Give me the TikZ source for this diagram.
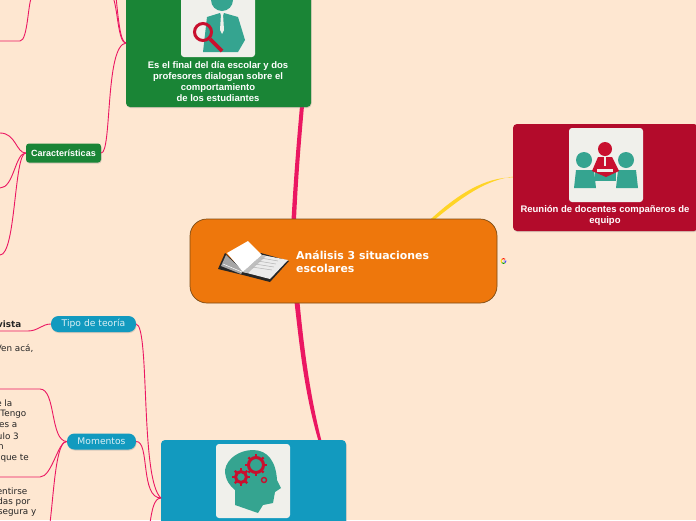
\documentclass[tikz,border=0pt]{standalone}
\usepackage{fontspec}
\setmainfont{Liberation Sans}
\newfontfamily\dvs{DejaVu Sans}
\usetikzlibrary{shadows}
\definecolor{bgc}{HTML}{FEE7D1}
\definecolor{grn}{HTML}{1A8536}
\definecolor{org}{HTML}{EE770C}
\definecolor{brd}{HTML}{7A4A14}
\definecolor{redb}{HTML}{B30B2B}
\definecolor{blu}{HTML}{129ABF}
\definecolor{pnk}{HTML}{EB1762}
\definecolor{ylw}{HTML}{FFD426}
\definecolor{teal2}{HTML}{35A490}
\definecolor{crim}{HTML}{C8102E}
\definecolor{thumb}{HTML}{F0F0EB}
\tikzset{
 x=1pt,y=-1pt,
 bigbox/.style={draw=none,rounded corners=4pt,minimum width=185pt,inner sep=0pt,drop shadow={shadow xshift=0.5pt,shadow yshift=-1pt,opacity=.3}},
 thumbbox/.style={fill=thumb,rounded corners=3pt,minimum width=74pt,minimum height=74pt,inner sep=0pt},
 boxtext/.style={text=white,font=\fontsize{9.5}{11}\selectfont\bfseries,align=center,inner sep=0pt},
 pill/.style={fill=blu,rounded corners=7.5pt,text=white!85!blu,font=\dvs\fontsize{9.2}{10}\selectfont,inner sep=0pt,drop shadow={shadow xshift=0.5pt,shadow yshift=-1pt,opacity=.3}},
 tag/.style={fill=grn,rounded corners=3pt,text=white,font=\fontsize{9}{10}\selectfont\bfseries,inner sep=0pt,drop shadow={shadow xshift=0.5pt,shadow yshift=-1pt,opacity=.3}},
 thin link/.style={draw=pnk,line width=.9pt},
 cut/.style={font=\dvs\fontsize{8.8}{10}\selectfont,text=black!85,anchor=east,inner sep=0pt},
}
\begin{document}
\begin{tikzpicture}
\path[use as bounding box] (0,0) rectangle (696,520);
\clip (0,0) rectangle (696,520);
\fill[bgc] (0,0) rectangle (696,520);

% free ends
\coordinate (e1) at (0,41);
\coordinate (e3) at (113,-3);
\coordinate (e4) at (116,-3);
\coordinate (e5) at (0,133);
\coordinate (e6) at (0,188);
\coordinate (e7) at (0,255);
\coordinate (e8) at (0,331);
\coordinate (e9) at (0,389);
\coordinate (e10) at (0,477);
\coordinate (e11) at (50,523);
\coordinate (e12) at (150,523);
\coordinate (e13) at (32,-3);

% connectors under boxes
\coordinate (gl) at (126,43);
\coordinate (bl) at (161,498);
\coordinate (cg) at (294,220);
\coordinate (cb) at (297,302);
\coordinate (gb) at (302,106);
\coordinate (bt) at (320,441);
\coordinate (cr) at (432,220);
\coordinate (rl) at (514,177);

\fill[pnk] (cg) ++(-2.5,0) .. controls (294,175) and (297,140) .. ([xshift=-2pt]gb) -- ([xshift=2pt]gb) .. controls (301,140) and (298,175) .. ([xshift=2pt]cg) -- cycle;
\fill[pnk] (cb) ++(-2.5,0) .. controls (300,350) and (305,395) .. ([xshift=-1.5pt]bt) -- ([xshift=1.5pt]bt) .. controls (310,395) and (304,350) .. ([xshift=2.5pt]cb) -- cycle;
\fill[ylw] ([xshift=-2.2pt]cr) .. controls (458,194) and (485,177) .. ([yshift=-.4pt]rl) -- ([yshift=.4pt]rl) .. controls (487,179) and (462,197) .. ([xshift=2.2pt]cr) -- cycle;

% boxes
\node[bigbox,fill=grn,minimum height=128pt] (green) at (218.5,43) {};
\node[bigbox,fill=redb,minimum height=107pt] (red) at (605.5,177.5) {};
\node[bigbox,fill=blu,minimum height=120pt] (blue) at (253.5,500) {};
\node[draw=brd,line width=.7pt,fill=org,rounded corners=17pt,minimum width=307pt,minimum height=84pt,inner sep=0pt] (center) at (343.5,261) {};

\node[thumbbox] (t1) at (218,20) {};
\node[thumbbox] (t2) at (606,165) {};
\node[thumbbox] (t3) at (253,481) {};

% magnifier icon
\fill[teal2] (222,0) circle (11);
\fill[teal2] (207,17) -- (220,13) -- (222,18) -- (224,13) -- (238,17) -- (245,40) -- (238,52) -- (203,52) -- cycle;
\fill[thumb] (221,14) -- (223,14) -- (224,30) -- (222,34) -- (220,30) -- cycle;
\draw[crim,line width=3pt] (203,32) circle (8.5);
\draw[crim,line width=3.6pt] (210,39) -- (222,51);

% team icon
\fill[teal2] (584,160) circle (8);
\fill[teal2] (626,160) circle (8);
\fill[teal2] (576,170) -- (594,170) -- (596,188) -- (574,188) -- cycle;
\fill[teal2] (618,170) -- (636,170) -- (638,188) -- (616,188) -- cycle;
\fill[teal2] (595,168) rectangle (616,181);
\fill[crim] (605,149) circle (7);
\fill[crim] (598,157) -- (612,157) -- (619,171) -- (606,177) -- (592,171) -- cycle;
\fill[thumb] (597,169) rectangle (613,172);
\fill[thumb] (604,157) rectangle (606,166);

% head icon
\fill[teal2] (225,470) .. controls (227,458) and (240,450) .. (253,450) .. controls (268,450) and (276,462) .. (277,480) -- (281,488) -- (275,492) -- (273,503) -- (263,505) -- (258,513) -- (235,505) -- (235,490) .. controls (230,486) and (225,480) .. (225,470) -- cycle;
\foreach \cx/\cy/\r in {256/465/7.5,241/477/5.5}{
  \draw[crim,line width=3pt] (\cx,\cy) circle (\r);
  \foreach \a in {0,45,...,315}
    \draw[crim,line width=2.4pt] (\cx,\cy) ++(\a:\r) -- ++(\a:3.2);
}
\draw[crim,line width=1.4pt] (264,480) circle (2.5);

% book
\fill[black!85] (218,269) -- (225,253) -- (243,270) -- (261,253) -- (289,261) -- (270,282) -- (243,275) -- cycle;
\fill[black!35] (221,266) -- (226,255) -- (243,271) -- (241,274) -- cycle;
\draw[white,line width=.5pt] (223,264) -- (242,272);
\fill[white] (227,253) -- (248,241) -- (262,255) -- (243,272) -- cycle;
\fill[white!92!black] (243,272) -- (262,255) -- (288,260) -- (270,279) -- cycle;
\fill[black!25] (243,272) -- (262,255) -- (266,256) -- (248,273) -- cycle;
\foreach \i in {0,1,2,3}
  \draw[black!30,line width=.5pt] (252+\i*3,267-\i*3) -- (272+\i*2,270-\i*3);

% thin connectors
\draw[thin link] (e13) .. controls (28,0) and (28,41) .. (20,41) -- (e1);
\draw[thin link] (gl) .. controls (118,43) and (118,10) .. (e3);
\draw[thin link] (gl) .. controls (120,43) and (118,15) .. (e4);

% labelled small nodes
\node[tag,minimum width=75pt,minimum height=19pt] (car) at (63.5,153) {Características};
\node[pill,minimum width=85pt,minimum height=16pt] (tipo) at (93.5,324) {Tipo de teoría};
\node[pill,minimum width=69pt,minimum height=16pt] (mom) at (101.5,441.5) {Momentos};

\draw[thin link] (car.east) .. controls (112,153) and (105,45) .. (gl);
\draw[thin link] (car.west) .. controls (16,153) and (16,133) .. (e5);
\draw[thin link] (car.west) .. controls (15,153) and (14,188) .. (e6);
\draw[thin link] (car.west) .. controls (14,153) and (16,255) .. (e7);
\draw[thin link] (tipo.west) .. controls (42,324) and (38,331) .. (28,331) -- (e8);
\draw[thin link] (tipo.east) .. controls (150,326) and (140,480) .. (bl);
\draw[thin link] (mom.east) .. controls (150,441) and (140,498) .. (bl);
\draw[thin link] (mom.west) .. controls (50,441) and (56,389) .. (40,389) -- (e9);
\draw[thin link] (mom.west) .. controls (58,441) and (52,477) .. (40,477) -- (e10);
\draw[thin link] (mom.west) .. controls (56,441) and (54,490) .. (e11);
\draw[thin link] (bl) .. controls (154,498) and (152,510) .. (e12);

% texts
\node[boxtext] (gtxt) at (218,81.5) {Es el final del día escolar y dos\\profesores dialogan sobre el\\comportamiento\\de los estudiantes};
\node[boxtext] (rtxt) at (605,215.5) {Reunión de docentes compañeros de\\equipo};
\node[text=white,font=\dvs\bfseries\fontsize{10.9}{13}\selectfont,align=left,anchor=west,inner sep=0pt] (title) at (296,261.5) {Análisis 3 situaciones\\escolares};

\node[cut,font=\dvs\bfseries\fontsize{8.8}{10}\selectfont] (c0) at (21.5,324) {vista};
\node[cut] (c1) at (33.5,348) {Ven acá,};
\node[cut] (c2) at (12.5,403) {e la};
\node[cut] (c3) at (26.5,414) {Tengo};
\node[cut] (c4) at (17.5,425) {es a};
\node[cut] (c5) at (19,436) {ulo 3};
\node[cut] (c6) at (4,447) {n};
\node[cut] (c7) at (29,458) {que te};
\node[cut] (c8) at (27.5,491) {entirse};
\node[cut] (c9) at (30.5,502) {das por};
\node[cut] (c10) at (36.5,513) {segura y};

% small G mark
\coordinate (g) at (503.5,261);
\draw[line width=.9pt,red!80!orange] (g) ++(45:2.4pt) arc[start angle=45,end angle=135,radius=2.4pt];
\draw[line width=.9pt,yellow!80!orange] (g) ++(135:2.4pt) arc[start angle=135,end angle=225,radius=2.4pt];
\draw[line width=.9pt,green!60!black] (g) ++(225:2.4pt) arc[start angle=225,end angle=315,radius=2.4pt];
\draw[line width=.9pt,blue!70] (g) ++(315:2.4pt) arc[start angle=315,end angle=360,radius=2.4pt] -- (g);
\end{tikzpicture}
\end{document}
